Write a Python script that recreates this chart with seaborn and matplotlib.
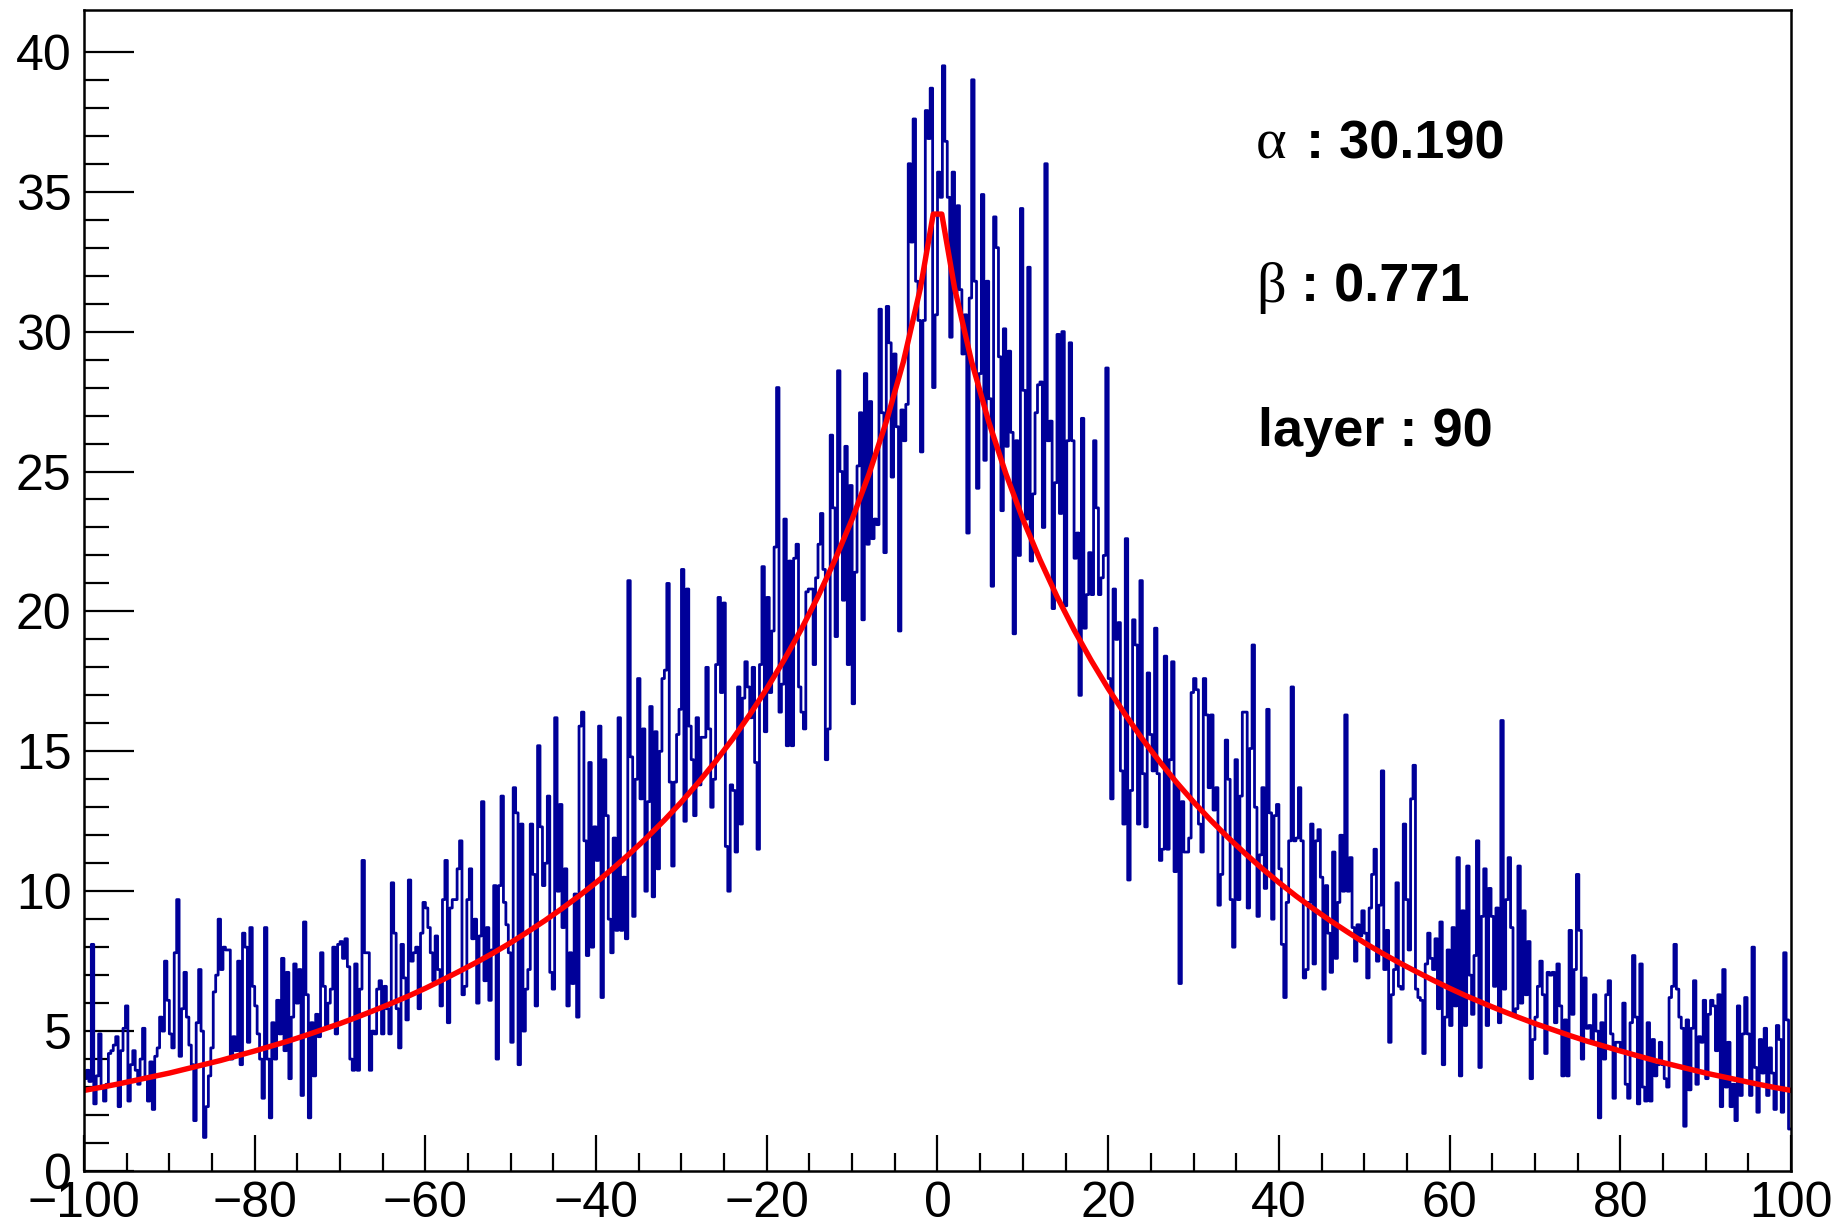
import numpy as np
import pandas as pd
import matplotlib
matplotlib.use("Agg")
import matplotlib.pyplot as plt
import seaborn as sns

# ---------------- data (700 bins over [-100, 100]) ----------------
x_range = (-100.0, 100.0)
counts_far_left = [
    3.3, 3.6, 3.2, 8.1, 2.4, 3.4, 4.9, 3.0, 2.5, 3.1, 4.2, 4.3, 4.5, 4.8, 2.3, 4.3, 5.1, 5.9, 2.5, 3.8,
    4.3, 3.6, 3.1, 4.0, 5.1, 3.3, 2.5, 3.9, 2.2, 4.1, 4.4, 5.5, 5.0, 7.5, 6.1, 4.9, 4.4, 7.8, 9.7, 4.1,
    5.8, 7.1, 5.5, 4.5, 3.8, 1.8, 5.3, 7.2, 5.0, 1.2, 2.3, 3.4, 4.4, 6.4, 7.0, 9.0, 7.2, 8.0,
    7.9, 7.9, 4.0, 4.8, 4.3, 7.5, 3.8, 8.5, 8.0, 4.6, 8.7, 6.6, 5.9, 4.9, 4.0, 2.6, 8.7, 4.0, 1.9, 5.3,
    4.0, 6.1, 4.9, 7.6, 4.3, 7.1, 3.3, 5.5, 7.4, 6.0, 7.2, 2.7, 8.9, 6.3, 1.9, 5.3, 3.4, 5.6, 4.8, 7.8,
    6.6, 5.2, 6.0, 6.5, 8.0, 4.9, 8.1, 8.2, 7.6, 8.3, 7.3, 4.0, 3.6, 7.4, 3.6, 6.5, 11.1, 7.8, 7.8, 3.6,
    5.0,
]
counts_left = [
    4.9, 6.5, 6.8, 4.9, 6.6, 5.8, 4.9, 10.3, 8.5, 5.8, 4.4, 8.1, 6.9, 5.4, 10.4, 7.5, 7.8, 8.0, 5.8, 8.5,
    9.6, 9.4, 8.7, 7.8, 6.8, 8.4, 7.2, 5.9, 9.7, 11.1, 5.3, 9.4, 9.7, 9.7, 10.8, 11.8, 6.3, 6.6, 9.7, 10.8,
    8.3, 9.0, 6.0, 8.4, 13.2, 6.8, 8.7, 6.1, 7.9, 10.2, 4.0, 10.2, 13.4, 9.6, 8.8, 7.8, 4.6, 13.7, 12.8, 3.8,
    12.4, 5.0, 6.5, 7.2, 12.4, 10.6, 5.9, 15.2, 12.3, 10.2, 11.0, 13.4, 7.1, 6.5, 16.2, 10.0, 13.1, 8.7, 10.8, 5.9,
    7.8, 6.7, 9.9, 5.5, 15.9, 16.4, 11.8, 7.7, 14.6, 8.0, 12.3, 11.1, 15.9, 6.2, 14.7, 12.7, 9.0, 7.8, 11.9, 8.6,
    16.2, 8.6, 10.5, 8.3, 21.1, 14.8, 9.1, 14.0, 17.6, 13.3, 15.8, 10.0, 13.2, 16.6, 9.8, 15.7, 10.8, 15.0, 17.6,
]
counts_center_left = [
    17.9, 21.0, 13.9, 10.9, 13.9, 15.6, 16.5, 21.5, 12.5, 20.8, 15.9, 14.7, 12.7, 16.2, 13.8, 15.5, 15.5, 18.0, 15.8, 13.0,
    14.0, 18.1, 20.5, 17.1, 20.3, 11.6, 10.0, 13.8, 13.6, 11.4, 17.3, 12.4, 16.9, 18.2, 17.3, 16.2, 18.0, 14.6, 11.5, 18.1,
    21.6, 15.7, 20.5, 17.1, 19.3, 22.3, 28.0, 16.4, 17.4, 23.3, 15.2, 21.8, 15.2, 21.9, 22.4, 17.3, 16.4, 15.8, 20.7, 20.8,
    20.8, 18.1, 21.2, 22.4, 23.5, 21.5, 14.7, 15.8, 26.3, 23.7, 19.1, 28.6, 25.0, 20.4, 25.9, 18.1, 24.5, 16.7, 21.4, 25.2,
    27.1, 19.7, 28.5, 22.4, 27.5, 22.6, 23.3, 23.1, 30.8, 27.1, 22.1, 30.9, 29.6, 24.8, 29.2, 26.6, 19.3, 27.2, 26.1, 27.4,
    36.0, 33.2, 37.6, 31.8, 30.4, 25.7, 30.4, 37.9, 36.9, 38.7, 28.0, 30.6, 35.7, 34.8, 39.5, 36.8, 34.8, 29.8, 35.7,
]
counts_center_right = [
    31.4, 34.5, 31.5, 29.2, 30.6, 22.8, 31.2, 39.0, 31.8, 24.4, 28.5, 34.9, 25.4, 31.8, 27.6, 20.9, 34.1, 33.0, 29.1, 23.6,
    30.1, 25.9, 29.3, 26.4, 19.2, 26.1, 22.0, 34.4, 27.9, 23.3, 32.3, 21.8, 24.2, 27.1, 28.1, 28.2, 23.0, 36.0, 26.1, 26.8,
    20.1, 24.6, 29.9, 23.5, 30.0, 20.2, 26.1, 29.6, 26.1, 21.9, 22.8, 17.0, 26.9, 19.4, 20.6, 22.1, 20.6, 26.1, 23.7, 20.6,
    21.2, 22.0, 28.7, 17.6, 13.3, 20.8, 19.0, 19.6, 14.3, 12.4, 22.6, 10.4, 13.6, 19.7, 18.8, 12.4, 21.1, 14.2, 12.3, 17.8,
    15.6, 14.3, 19.4, 14.2, 11.1, 11.5, 18.4, 11.5, 14.7, 18.2, 10.7, 13.8, 6.7, 13.2, 11.4, 11.4, 11.9, 17.1, 17.6, 17.2,
    12.4, 11.4, 17.6, 16.3, 13.7, 16.3, 12.9, 13.7, 9.5, 10.6, 12.1, 15.4, 14.0, 9.7, 8.0, 14.7, 9.7, 13.4, 16.4,
]
counts_right = [
    16.4, 9.4, 15.1, 18.8, 13.0, 9.1, 11.3, 13.7, 10.1, 16.5, 12.8, 9.0, 12.7, 13.1, 10.8, 8.1, 6.2, 9.6, 11.8, 17.3,
    11.8, 11.9, 13.7, 11.8, 6.9, 7.2, 9.6, 12.4, 7.4, 11.8, 12.2, 10.5, 6.5, 10.2, 8.5, 7.1, 11.4, 7.6, 9.6, 12.0,
    10.0, 16.3, 10.0, 11.2, 8.7, 7.5, 8.8, 8.4, 9.3, 8.5, 6.9, 9.4, 10.6, 11.5, 7.5, 9.5, 14.3, 7.2, 8.6, 4.6,
    6.3, 7.2, 10.3, 6.6, 6.5, 12.4, 9.7, 7.9, 13.3, 14.5, 6.5, 6.2, 6.1, 4.2, 7.4, 8.5, 7.6, 7.2, 8.3, 5.8,
    8.9, 3.8, 5.5, 7.9, 5.2, 8.7, 5.9, 11.2, 3.4, 9.3, 5.2, 10.9, 7.0, 5.6, 7.7, 11.8, 3.7, 9.1, 10.8, 5.2,
    10.1, 9.1, 6.6, 9.4, 5.3, 16.1, 6.5, 9.7, 11.2, 8.7, 5.6, 5.8, 10.9, 6.0, 9.3, 6.3, 8.2, 3.3, 4.7,
]
counts_far_right = [
    5.5, 6.6, 7.5, 6.3, 4.2, 7.1, 7.0, 7.1, 5.3, 7.4, 5.9, 3.4, 5.4, 3.4, 8.6, 5.6, 7.2, 10.6, 8.6, 4.0,
    6.9, 5.1, 5.2, 4.6, 6.3, 5.0, 1.9, 5.3, 4.0, 6.3, 6.8, 4.9, 2.6, 4.6, 4.6, 4.4, 6.0, 3.1, 2.6, 5.3,
    7.7, 5.5, 2.4, 7.4, 3.0, 2.5, 5.3, 2.5, 4.7, 3.4, 3.8, 4.6, 3.8, 3.3, 3.0, 6.2, 6.6, 8.1, 6.5,
    5.5, 5.1, 1.6, 5.4, 2.9, 5.1, 6.8, 3.1, 4.8, 4.6, 6.1, 3.3, 5.6, 6.1, 5.9, 4.3, 6.3, 2.3, 7.2, 3.0,
    4.6, 2.3, 3.1, 1.8, 5.9, 2.7, 4.9, 6.2, 4.9, 2.7, 8.0, 3.7, 2.1, 4.7, 3.5, 5.1, 2.7, 4.4, 3.5, 2.2,
    5.2, 4.7, 2.1, 7.8, 5.4, 1.5,
]

# fitted curve (right half; the curve is symmetric)
fit_x_half = [0.5, 2, 4, 6, 8, 10, 12, 14, 16, 18, 20, 22, 24, 26, 28, 30, 32, 34, 36, 38, 40,
              42, 44, 46, 48, 50, 52, 54, 56, 58, 60, 62, 64, 66, 68, 70, 72, 74, 76, 78, 80,
              82, 84, 86, 88, 90, 92, 94, 96, 98, 100]
fit_y_half = [34.2, 31.56, 28.92, 26.78, 24.93, 23.30, 21.85, 20.53, 19.34, 18.25, 17.24, 16.31, 15.44,
              14.64, 13.89, 13.19, 12.54, 11.93, 11.36, 10.82, 10.31, 9.83, 9.38, 8.95, 8.55, 8.16,
              7.80, 7.46, 7.14, 6.83, 6.53, 6.25, 5.99, 5.74, 5.50, 5.27, 5.06, 4.85, 4.65, 4.47, 4.29,
              4.12, 3.95, 3.80, 3.65, 3.50, 3.37, 3.24, 3.11, 2.99, 2.88]

param_names = ["\u03b1", "\u03b2"]
param_values = ["30.190", "0.771"]
layer_text = "layer : 90"

# ---------------- build frames ----------------
counts = (counts_far_left + counts_left + counts_center_left + counts_center_right
          + counts_right + counts_far_right)
nbins = len(counts)
edges = np.linspace(x_range[0], x_range[1], nbins + 1)
centers = 0.5 * (edges[:-1] + edges[1:])
hist_df = pd.DataFrame({"x": centers, "w": counts})
fit_df = pd.DataFrame({
    "x": [-v for v in fit_x_half[::-1]] + fit_x_half,
    "y": fit_y_half[::-1] + fit_y_half,
})

# ---------------- style ----------------
sns.set_theme(style="white")
plt.rcParams["font.family"] = ["Liberation Sans", "DejaVu Sans"]
plt.rcParams["axes.unicode_minus"] = True
for key in ["text.color", "axes.labelcolor", "xtick.color", "ytick.color", "axes.edgecolor"]:
    plt.rcParams[key] = "black"

W, H = 1840, 1228
fig = plt.figure(figsize=(W / 100, H / 100), dpi=100)
x0, x1, y0, y1 = 84, 1791, 9.5, 1171
ax = fig.add_axes([x0 / W, 1 - y1 / H, (x1 - x0) / W, (y1 - y0) / H])

sns.histplot(data=hist_df, x="x", weights="w", bins=nbins, binrange=x_range,
             element="step", fill=False, color="#000099", linewidth=2.0, ax=ax)
sns.lineplot(data=fit_df, x="x", y="y", color="#ff0000", linewidth=3.9, ax=ax)

ax.set_xlim(*x_range)
ax.set_ylim(0, (y1 - y0) / 27.98)
ax.set_xlabel("")
ax.set_ylabel("")

ax.set_xticks(np.arange(-100, 101, 20))
ax.set_xticks(np.arange(-100, 101, 5), minor=True)
ax.set_yticks(np.arange(0, 41, 5))
ax.set_yticks(np.arange(0, 41, 1), minor=True)
ax.tick_params(axis="x", which="major", direction="in", length=26, width=1.6, labelsize=36, pad=7,
               bottom=True, top=False, colors="black")
ax.tick_params(axis="x", which="minor", direction="in", length=13, width=1.6, bottom=True, top=False)
ax.tick_params(axis="y", which="major", direction="in", length=36, width=1.6, labelsize=36, pad=9,
               left=True, right=False, colors="black")
ax.tick_params(axis="y", which="minor", direction="in", length=18, width=1.6, left=True, right=False)
for s in ax.spines.values():
    s.set_color("black")
    s.set_linewidth(1.8)
    s.set_visible(True)

# annotation text (greek letter in a serif face, the rest bold sans)
tx_sym = [0.6864, 0.6870]
tx_val = [0.7158, 0.7129]
tx_layer = 0.6877
ty = [0.8718, 0.7485, 0.6242]
serif = ["Liberation Serif", "DejaVu Serif"]
for k in range(2):
    ax.text(tx_sym[k], ty[k], param_names[k], transform=ax.transAxes, fontsize=42, family=serif,
            color="black", va="baseline", ha="left")
    ax.text(tx_val[k], ty[k], ": " + param_values[k], transform=ax.transAxes, fontsize=39,
            fontweight="bold", color="black", va="baseline", ha="left")
ax.text(tx_layer, ty[2], layer_text, transform=ax.transAxes, fontsize=39,
        fontweight="bold", color="black", va="baseline", ha="left")

fig.savefig("out.png", dpi=100, facecolor="white")
